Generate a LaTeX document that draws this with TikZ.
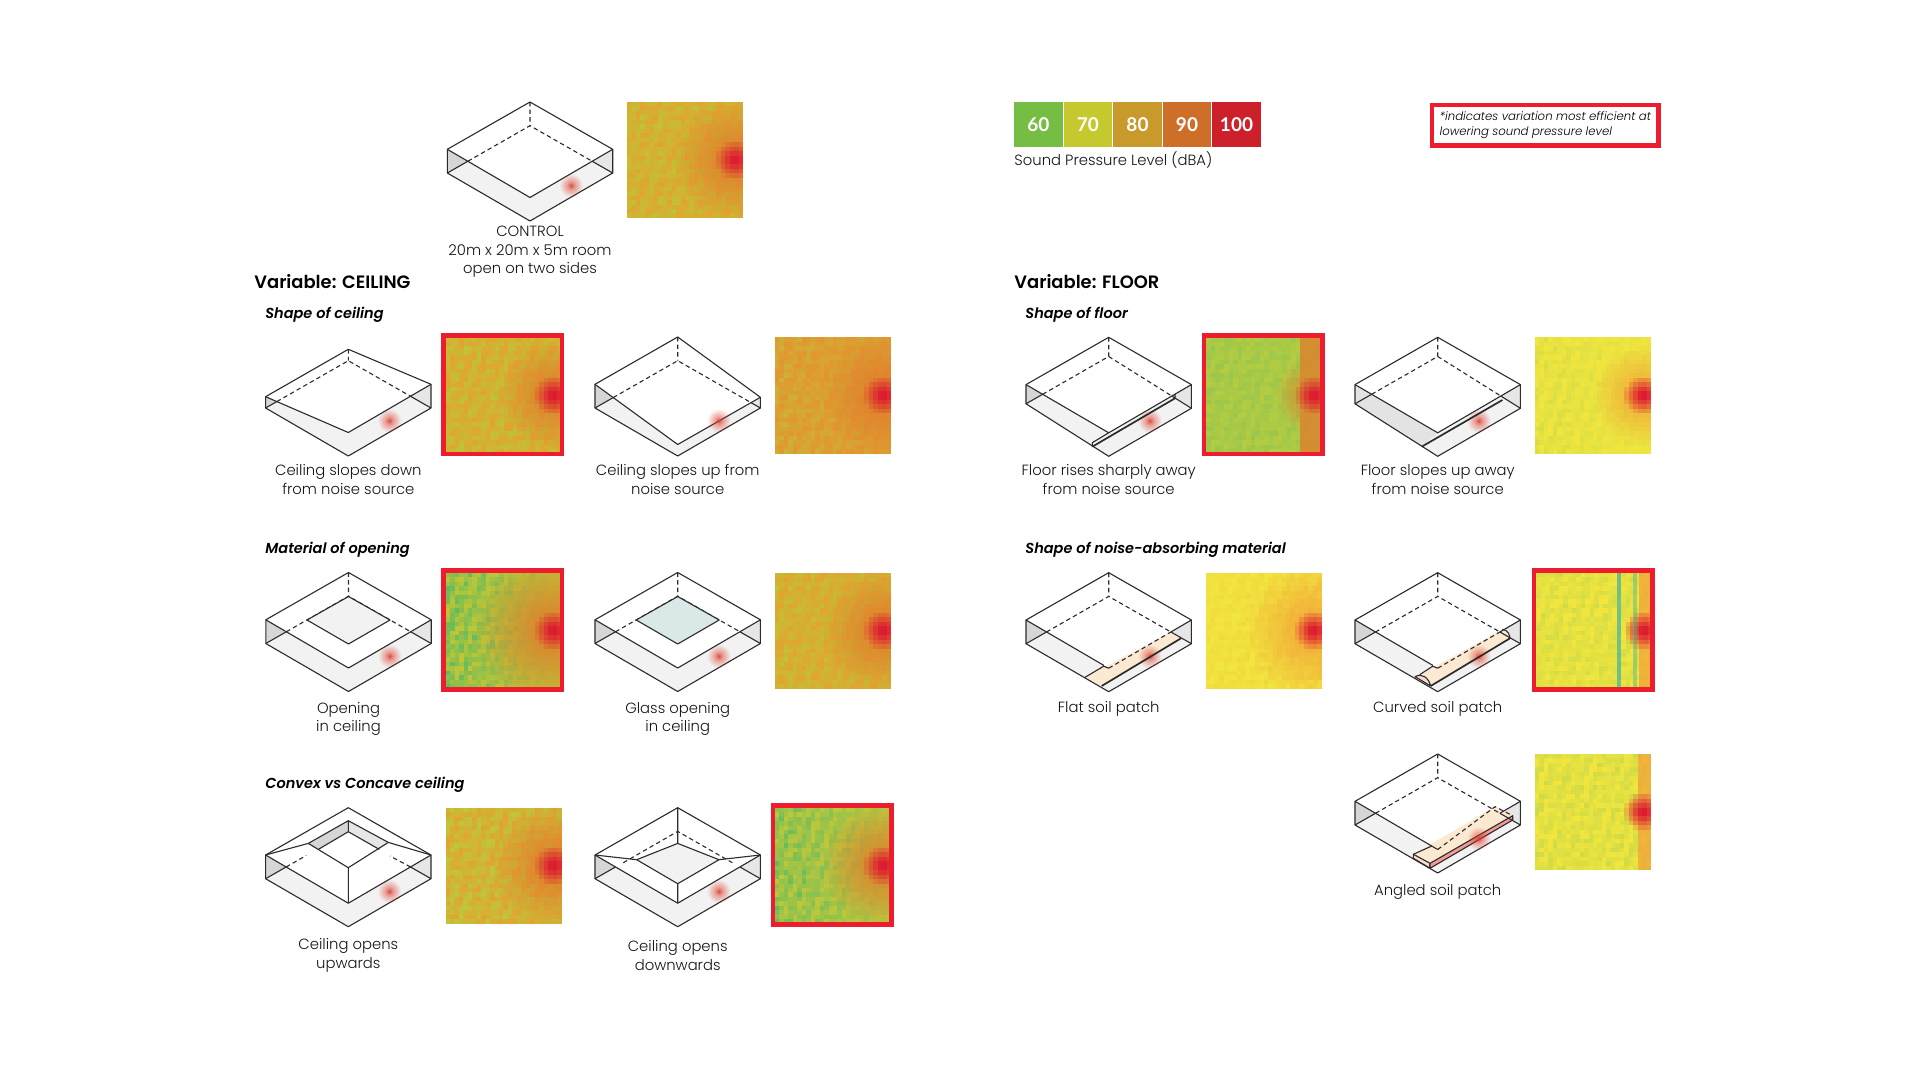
\documentclass[tikz,border=0pt]{standalone}
\usepackage{fontspec}
\setmainfont{Poppins}[UprightFont=* Light,ItalicFont=* Light Italic,
                      BoldFont=* SemiBold,BoldItalicFont=* SemiBold Italic]
\newfontfamily\legendfont{Lato}
\usepackage{tikz}
\usetikzlibrary{calc,positioning}
\usepackage{xcolor}
\definecolor{inkline}{HTML}{2B2B2B}
\definecolor{floorgrey}{HTML}{F2F2F2}
\definecolor{wallleft}{HTML}{D6D6D6}
\definecolor{wallright}{HTML}{E6E6E6}
\definecolor{glass}{HTML}{DAE8E8}
\definecolor{soil}{HTML}{FBE9D2}
\definecolor{soilside}{HTML}{F49A94}
\definecolor{soilend}{HTML}{FBD9D3}
\definecolor{hotred}{HTML}{DC1C30}
\definecolor{dotred}{HTML}{DE3A2C}
\definecolor{bestred}{HTML}{ED1C2E}
\definecolor{dull}{HTML}{E0A530}
\definecolor{dulllime}{HTML}{BCC636}
\definecolor{deep}{HTML}{E2962F}
\definecolor{limey}{HTML}{BCC83C}
\definecolor{green}{HTML}{62BA5E}
\definecolor{leaf}{HTML}{A8CC4E}
\definecolor{lemon}{HTML}{B4CC42}
\definecolor{sun}{HTML}{F1E63E}
\definecolor{amber}{HTML}{F2A338}
\definecolor{ember}{HTML}{E17A2C}
\definecolor{tealbar}{HTML}{4FB59A}
% room: drops of the ceiling corners T,L,R,F and rise of the back floor
\newcommand{\roomback}[5]{%
  \coordinate (T) at (0,#1);
  \coordinate (L) at (-82.7,47.3+#2);
  \coordinate (R) at (82.7,47.3+#3);
  \coordinate (F) at (0,95.5+#4);
  \coordinate (Bb) at (0,23.7-#5);
  \coordinate (Lb) at (-82.7,71-#5);
  \coordinate (Rb) at (82.7,71);
  \coordinate (Fb) at (0,119);
  \coordinate (XL) at (intersection of L--F and Bb--Lb);
  \coordinate (XR) at (intersection of R--F and Bb--Rb);
  \fill[floorgrey] (Bb) -- (Lb) -- (Fb) -- (Rb) -- cycle;
  \fill[white] (T) -- (L) -- (F) -- (R) -- cycle;
  \fill[wallleft] (L) -- (Lb) -- (XL) -- cycle;
  \fill[wallright] (R) -- (Rb) -- (XR) -- cycle;
}
\newcommand{\roomedges}{%
  \draw[edge] (L) -- (T) -- (R) -- (Rb) -- (Fb) -- (Lb) -- cycle;
  \draw[edge] (Lb) -- (XL) (Rb) -- (XR);
}
\newcommand{\roomhidden}{%
  \draw[hidden] (T) -- (Bb) (XL) -- (Bb) -- (XR);
}
\newcommand{\roomfront}{\draw[edge] (L) -- (F) -- (R);}
\newcommand{\noisedot}[1][84]{%
  \foreach \r/\o in {11.5/.07,10/.09,8.5/.1,7/.12,5.5/.14,4/.2,2.5/.35,1.2/.6}
    \fill[dotred,opacity=\o] (41.5,#1) circle (\r);
}
% heat map: x,y,patch colour,base colour,halo colour,patch share left,right,halo radius,stripe start
\newcommand{\heatmap}[9]{%
  \foreach \i in {0,...,25}{\foreach \j in {0,...,25}{%
    \pgfmathsetmacro{\u}{\i/25}
    \pgfmathsetmacro{\d}{veclen(0.95-\u,0.5-\j/25)}
    \pgfmathtruncatemacro{\pa}{max(0,min(100,100*(0.5+0.4*rand+0.35*sin(71*(\i+\j)+131*floor((\i-\j)/4)))*(#6+(#7-#6)*\u)))}
    \pgfmathtruncatemacro{\ph}{100-min(100,max(100*max(0,1-\d/#8),(\u>#9)*75))}
    \pgfmathtruncatemacro{\pc}{100-min(100,max(0,100*(1.2-\d/0.15)))}
    \fill[fill={#3!\pa!#4!\ph!#5!\pc!hotred}] (#1+\i*4.46,#2+\j*4.46) rectangle ++(4.7,4.7);
  }}
}
\newcommand{\bestbox}[2]{\draw[best] (#1-2.2,#2-2.2) rectangle ++(118.4,118.8);}
\tikzset{
  edge/.style={inkline,line width=.55pt,line join=round},
  hidden/.style={inkline,line width=.55pt,dash pattern=on 2.2pt off 1.6pt},
  boldedge/.style={inkline,line width=.85pt},
  best/.style={bestred,line width=2.3pt},
  caption/.style={align=center,text=black!92,font=\fontsize{7.4}{9.2}\selectfont,inner sep=0pt},
  bighead/.style={anchor=west,inner sep=0pt,font=\fontsize{8.95}{10}\selectfont\bfseries},
  subhead/.style={anchor=west,inner sep=0pt,font=\fontsize{7.25}{8}\selectfont\bfseries\itshape},
  swatch/.style={minimum width=24.2pt,minimum height=22.5pt,inner sep=0pt,text=white,
                 font=\fontsize{9.5}{10}\selectfont\legendfont\bfseries},
  notebox/.style={draw=bestred,line width=2.3pt,minimum width=113.3pt,minimum height=20.2pt,
                  align=left,inner sep=0pt,font=\fontsize{5.85}{7.5}\selectfont\itshape}
}
\begin{document}
\begin{tikzpicture}[x=.5pt,y=-.5pt]
  \useasboundingbox (0,0) rectangle (1920,1080);
  \pgfmathsetseed{7}
  % --- control
  \begin{scope}[shift={(530,102)}]
    \roomback{0}{0}{0}{0}{0}\roomhidden\roomedges\roomfront\noisedot
  \end{scope}
  \heatmap{627}{102}{dulllime}{dull}{ember}{.75}{.65}{.55}{2}
  \node[caption] (capcontrol) at (530,252) {CONTROL\\20m x 20m x 5m room\\open on two sides};
  % --- legend and note
  \foreach \v/\c/\x in {60/76BE43/1038.4,70/C5C92F/1087.8,80/C8992B/1137.5,90/CE6F29/1187,100/CC202B/1236.5}{
    \definecolor{swfill}{HTML}{\c}
    \node[swatch,fill=swfill] (sw\v) at (\x,124.2) {\v};
  }
  \node[caption,anchor=north west] (legendcap) at (1014,151) {Sound Pressure Level (dBA)};
  \node[notebox] (note) at (1545.3,125.2) {*indicates variation most efficient at\\lowering sound pressure level};
  % --- ceiling column
  \node[bighead] (ceilhead) at (254,282) {Variable: CEILING};
  \node[subhead] (shapeceil) at (265,315) {Shape of ceiling};
  \node[subhead] (material) at (265,550) {Material of opening};
  \node[subhead] (convex) at (265,785) {Convex vs Concave ceiling};
  \begin{scope}[shift={(348.3,337)}]
    \roomback{12.3}{12.4}{0}{0}{0}\roomhidden\roomedges\roomfront\noisedot
  \end{scope}
  \heatmap{445.7}{337.5}{dulllime}{dull}{ember}{.8}{.7}{.5}{2}
  \bestbox{445.7}{337.5}
  \node[caption] (capdown) at (348.3,479.5) {Ceiling slopes down\\from noise source};
  \begin{scope}[shift={(677.7,337)}]
    \roomback{0}{0}{13}{12}{0}\roomhidden\roomedges\roomfront\noisedot
  \end{scope}
  \heatmap{775}{337.5}{limey}{deep}{ember}{.5}{.25}{.55}{2}
  \node[caption] (capup) at (677.7,479.5) {Ceiling slopes up from\\noise source};
  \begin{scope}[shift={(348.5,572.5)}]
    \roomback{0}{0}{0}{0}{0}\roomhidden\roomedges\roomfront\noisedot
    \filldraw[edge,fill=floorgrey] (0,24) -- (-41.5,47.5) -- (0,71.5) -- (41.5,47.5) -- cycle;
  \end{scope}
  \heatmap{445.7}{572.7}{green}{dulllime}{ember}{.95}{.05}{.7}{2}
  \bestbox{445.7}{572.7}
  \node[caption] (capopen) at (348.5,719) {Opening\\in ceiling};
  \begin{scope}[shift={(677.7,572.5)}]
    \roomback{0}{0}{0}{0}{0}\roomhidden\roomedges\roomfront\noisedot
    \filldraw[edge,fill=glass] (0,24) -- (-41.5,47.5) -- (0,71.5) -- (41.5,47.5) -- cycle;
  \end{scope}
  \heatmap{775}{572.7}{dulllime}{dull}{ember}{.7}{.6}{.55}{2}
  \node[caption] (capglass) at (677.7,719) {Glass opening\\in ceiling};
  \begin{scope}[shift={(348.3,807.7)}]
    \roomback{0}{0}{0}{0}{0}
    \fill[wallleft] (0,13) -- (0,24) -- (-30,41.7) -- (-40,35.7) -- cycle;
    \fill[wallright] (0,13) -- (0,24) -- (31,41.7) -- (40,34.7) -- cycle;
    \roomedges\roomfront\noisedot
    \draw[hidden] (XL) -- (-42,47.8) (XR) -- (41.7,48.3);
    \draw[edge] (L) -- (-40,35.7) -- (0,13) -- (40,34.7) -- (R) (0,13) -- (0,24);
    \draw[edge] (-40,35.7) -- (0,60) -- (40,34.7) (F) -- (0,60);
    \draw[edge] (0,24) -- (-30,41.7) (0,24) -- (31,41.7);
  \end{scope}
  \heatmap{445.5}{807.7}{limey}{dull}{ember}{.95}{.7}{.55}{2}
  \node[caption] (capupw) at (348.3,955.5) {Ceiling opens\\upwards};
  \begin{scope}[shift={(677.7,807.7)}]
    \roomback{0}{0}{0}{0}{0}
    \fill[floorgrey] (0,35.7) -- (-41,52) -- (0,76) -- (41.3,52) -- cycle;
    \roomedges\roomfront\noisedot
    \draw[hidden] (-54.4,55) -- (Bb) -- (54.6,55);
    \draw[edge] (T) -- (0,35.7) (0,35.7) -- (-41,52) -- (0,76) -- (41.3,52) -- (0,35.7);
    \draw[edge] (L) -- (-41,52) (R) -- (41.3,52) (F) -- (0,76);
  \end{scope}
  \heatmap{775}{807.7}{green}{limey}{ember}{.85}{.15}{.55}{2}
  \bestbox{775}{807.7}
  \node[caption] (capdownw) at (677.7,955.5) {Ceiling opens\\downwards};
  % --- floor column
  \node[bighead] (floorhead) at (1014,282) {Variable: FLOOR};
  \node[subhead] (shapefloor) at (1025,315) {Shape of floor};
  \node[subhead] (absorb) at (1025,550) {Shape of noise-absorbing material};
  \begin{scope}[shift={(1108.7,337.3)}]
    \roomback{0}{0}{0}{0}{4.5}
    \fill[white!95!black] (-16.4,105.4) -- (66.3,56.7) -- (66.3,61) -- (-16.4,109.4) -- cycle;
    \roomhidden\roomedges\roomfront\noisedot
    \draw[edge] (F) -- (-16.4,105.4) -- (-16.4,109.4) (66.3,56.7) -- (66.3,61);
    \draw[boldedge] (-16.4,109.4) -- (66.3,61);
  \end{scope}
  \heatmap{1206.3}{337.5}{green}{lemon}{ember}{.3}{.25}{.35}{.8}
  \bestbox{1206.3}{337.5}
  \node[caption] (caprise) at (1108.7,479.5) {Floor rises sharply away\\from noise source};
  \begin{scope}[shift={(1437.7,337.3)}]
    \roomback{0}{0}{0}{0}{4.5}
    \fill[black!11] (L) -- (F) -- (-16,109.4) -- (Lb) -- cycle;
    \roomhidden\roomedges\roomfront\noisedot
    \draw[boldedge] (-16,109.4) -- (64.7,62.7);
  \end{scope}
  \heatmap{1535}{337.5}{leaf}{sun}{amber}{.3}{.15}{.45}{2}
  \node[caption] (capslope) at (1437.7,479.5) {Floor slopes up away\\from noise source};
  \begin{scope}[shift={(1108.7,572.7)}]
    \roomback{0}{0}{0}{0}{0}
    \fill[soil] (-23.7,104.6) -- (-7,113.3) -- (72.3,65.6) -- (61.3,60) -- cycle;
    \roomedges\noisedot
    \draw[hidden] (T) -- (Bb) (XL) -- (Bb) -- (XR) (F) -- (XR);
    \draw[edge] (L) -- (-5,92.6) (-23.7,104.6) -- (-5,93.5) -- (F) (XR) -- (R);
    \draw[boldedge] (-7,113.3) -- (72.3,65.6);
  \end{scope}
  \heatmap{1205.7}{572.7}{amber}{sun}{amber}{.15}{.3}{.6}{2}
  \node[caption] (capflat) at (1108.7,709) {Flat soil patch};
  \begin{scope}[shift={(1437.7,572.7)}]
    \roomback{0}{0}{0}{0}{0}
    \fill[soil] (-16,101.3) .. controls (-9,105) and (-7,109) .. (-7,113.3)
      -- (72.3,65.6) .. controls (72,62) and (70,57) .. (64.6,56.7) -- cycle;
    \filldraw[edge,fill=soilend] (-22.7,104) .. controls (-16,100) and (-9,105) .. (-7,113.3) -- cycle;
    \roomedges\noisedot
    \draw[hidden] (T) -- (Bb) (XL) -- (Bb) -- (XR) (F) -- (XR);
    \draw[edge] (L) -- (-5,92.6) (-18,102) -- (-5,93.5) -- (F) (XR) -- (R);
    \draw[edge] (64.6,56.7) .. controls (70,57) and (72,62) .. (72.3,65.6);
    \draw[boldedge] (-7,113.3) -- (72.3,65.6);
  \end{scope}
  \heatmap{1536.3}{572.7}{leaf}{sun}{amber}{.35}{.35}{.2}{.886}
  \fill[tealbar,opacity=.75] (1617.3,572.7) rectangle (1620.7,688);
  \fill[tealbar,opacity=.45] (1633.3,572.7) rectangle (1637,688);
  \bestbox{1536.3}{572.7}
  \node[caption] (capcurved) at (1437.7,709) {Curved soil patch};
  \begin{scope}[shift={(1437.7,754)}]
    \roomback{0}{0}{0}{0}{0}
    \fill[soil] (-24.3,100.3) -- (-7.7,109.3) -- (75,61.7) -- (57.3,52.7) -- cycle;
    \filldraw[edge,fill=soilend] (-24.3,100.3) -- (-7.7,109.3) -- (-7.7,114.3) -- (-24.3,104.3) -- cycle;
    \filldraw[edge,fill=soilside] (-7.7,109.3) -- (75,61.7) -- (75,66) -- (-7.7,114.3) -- cycle;
    \roomedges\noisedot[85]
    \draw[hidden] (T) -- (Bb) (XL) -- (Bb) -- (XR) (F) -- (57.3,52.7) -- (75,61.7);
    \draw[edge] (L) -- (-6,92) -- (F) (-24.3,100.3) -- (-6,92) (XR) -- (R);
  \end{scope}
  \heatmap{1535}{754}{leaf}{sun}{amber}{.4}{.4}{.15}{.89}
  \node[caption] (capangled) at (1437.7,892) {Angled soil patch};
\end{tikzpicture}
\end{document}
